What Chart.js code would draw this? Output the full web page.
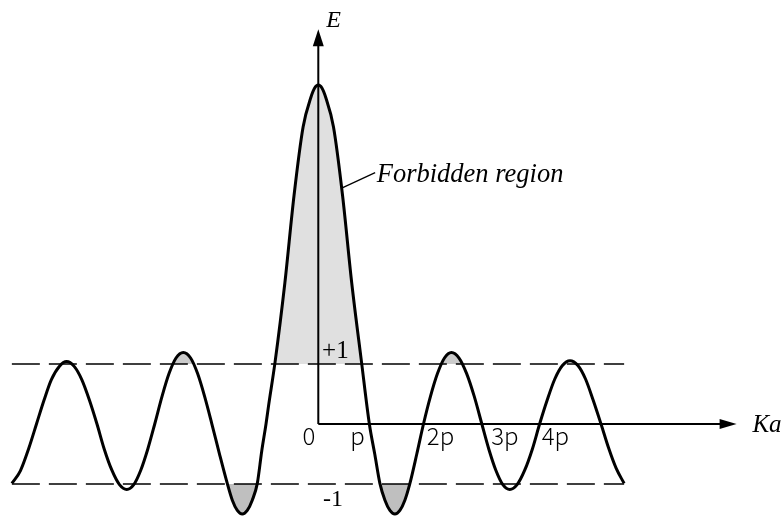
<!DOCTYPE html>
<html>
<head>
<meta charset="utf-8">
<title>Forbidden region</title>
<script src="https://cdn.jsdelivr.net/npm/chart.js@4.4.1/dist/chart.umd.min.js"></script>
<style>
  html, body { margin: 0; padding: 0; background: #fff; }
  canvas { display: block; }
</style>
</head>
<body>
<canvas id="bandChart" width="783" height="517"></canvas>
<script>
// Ka (in units of pi) and the band function value
const kaValues = [
  -5.04, -4.90, -4.76, -4.635, -4.51, -4.39, -4.26, -4.14, -4.015, -3.89,
  -3.765, -3.64, -3.52, -3.395, -3.27, -3.15, -3.035, -2.92, -2.805, -2.69,
  -2.57, -2.455, -2.34, -2.22, -2.10, -1.985, -1.87, -1.75, -1.63, -1.497,
  -1.414, -1.332, -1.25, -1.168, -1.086, -1.003, -0.93, -0.86, -0.82, -0.71,
  -0.55, -0.40, -0.25, -0.12, -0.06, 0, 0.06, 0.12, 0.25, 0.40,
  0.55, 0.71, 0.84, 0.93, 1.013, 1.096, 1.178, 1.26, 1.342, 1.424,
  1.507, 1.62, 1.73, 1.845, 1.96, 2.075, 2.19, 2.315, 2.44, 2.565,
  2.69, 2.805, 2.92, 3.035, 3.15, 3.27, 3.395, 3.52, 3.64, 3.765,
  3.89, 4.015, 4.14, 4.27, 4.395, 4.52, 4.65, 4.775, 4.90, 5.03
];
const fValues = [
  -0.99, -0.78, -0.40, 0.00, 0.40, 0.74, 0.96, 1.04, 0.96, 0.74,
  0.40, 0.00, -0.42, -0.77, -1.01, -1.09, -1.01, -0.77, -0.42, 0.00,
  0.46, 0.84, 1.10, 1.19, 1.10, 0.84, 0.46, 0.00, -0.48, -0.99,
  -1.27, -1.44, -1.50, -1.44, -1.27, -0.99, -0.45, 0.00, 0.29, 1.04,
  2.35, 3.80, 4.95, 5.45, 5.60, 5.65, 5.60, 5.45, 4.95, 3.80,
  2.35, 1.04, 0.00, -0.51, -0.99, -1.27, -1.44, -1.50, -1.44, -1.27,
  -0.99, -0.50, 0.00, 0.46, 0.84, 1.10, 1.19, 1.10, 0.84, 0.46,
  0.00, -0.42, -0.77, -1.01, -1.09, -1.01, -0.77, -0.42, 0.00, 0.40,
  0.75, 0.975, 1.055, 0.975, 0.75, 0.40, 0.00, -0.40, -0.74, -0.99
];

// allowed band limits and the span of the dashed guides
const bandLimits = [1, -1];
const guideSpan = [-5.04, 5.03];

const tickLabels = ['0', 'p', '2p', '3p', '4p'];

// ---- layout ----
const tickLabelAt = [-0.153, 0.645, 2.01, 3.07, 3.9];
const xAxisEnd = 6.88;
const yAxisTop = 6.58;

const curve = kaValues.map((x, i) => ({ x, y: fValues[i] }));

// keep only the part of the curve inside a Ka window, gaps elsewhere
function windowed(lo, hi) {
  return curve.map(p => {
    const a = Math.abs(p.x);
    return (a >= lo && a <= hi) ? p : { x: p.x, y: null };
  });
}

const guide = v => guideSpan.map(x => ({ x, y: v }));

const decorations = {
  id: 'decorations',
  afterDatasetsDraw(chart) {
    const { ctx, scales: { x, y } } = chart;
    const px = v => x.getPixelForValue(v);
    const py = v => y.getPixelForValue(v);
    ctx.save();
    ctx.strokeStyle = '#000';
    ctx.fillStyle = '#000';

    // axes
    ctx.lineWidth = 2;
    ctx.beginPath();
    ctx.moveTo(px(0), py(0));
    ctx.lineTo(px(0), py(yAxisTop) + 14);
    ctx.moveTo(px(0), py(0));
    ctx.lineTo(px(xAxisEnd) - 14, py(0));
    ctx.stroke();

    // arrow heads
    const ox = px(0), oy = py(0);
    const ty = py(yAxisTop), tx = px(xAxisEnd);
    ctx.beginPath();
    ctx.moveTo(ox, ty);
    ctx.lineTo(ox - 5.5, ty + 17);
    ctx.lineTo(ox + 5.5, ty + 17);
    ctx.closePath();
    ctx.fill();
    ctx.beginPath();
    ctx.moveTo(tx, oy);
    ctx.lineTo(tx - 17, oy - 5);
    ctx.lineTo(tx - 17, oy + 5);
    ctx.closePath();
    ctx.fill();

    // axis titles
    ctx.textAlign = 'left';
    ctx.textBaseline = 'alphabetic';
    ctx.font = 'italic 24px "Liberation Serif", serif';
    ctx.fillText('E', px(0.13), py(6.62));
    ctx.font = 'italic 25px "Liberation Serif", serif';
    ctx.fillText('Ka', px(7.14), py(-0.128));

    // band limit labels
    ctx.font = '25px "Liberation Serif", serif';
    ctx.fillText('+1', px(0.062), py(1.1));
    ctx.font = '24px "Liberation Serif", serif';
    ctx.fillText('-1', px(0.077), py(-1.367));

    // tick labels below the Ka axis
    ctx.font = '300 24px "Noto Sans CJK JP", "Liberation Sans", sans-serif';
    ctx.textAlign = 'center';
    tickLabels.forEach((t, i) => ctx.fillText(t, px(tickLabelAt[i]), py(-0.35)));

    // callout for the shaded region
    ctx.lineWidth = 1.3;
    ctx.beginPath();
    ctx.moveTo(px(0.385), py(3.93));
    ctx.lineTo(px(0.935), py(4.19));
    ctx.stroke();
    ctx.textAlign = 'left';
    ctx.font = 'italic 26.5px "Liberation Serif", serif';
    ctx.fillText('Forbidden region', px(0.961), py(4.04));

    ctx.restore();
  }
};

const common = {
  pointRadius: 0,
  cubicInterpolationMode: 'monotone',
  clip: false,
  spanGaps: false
};

new Chart(document.getElementById('bandChart'), {
  type: 'line',
  data: {
    datasets: [
      {
        ...common,
        data: curve,
        borderColor: '#000',
        borderWidth: 3,
        borderJoinStyle: 'round',
        fill: false,
        order: 0
      },
      {
        ...common,
        data: guide(bandLimits[0]),
        borderColor: '#000',
        borderWidth: 1.5,
        borderDash: [28, 9],
        fill: false,
        order: 1
      },
      {
        ...common,
        data: guide(bandLimits[1]),
        borderColor: '#000',
        borderWidth: 1.5,
        borderDash: [28, 9],
        fill: false,
        order: 1
      },
      {
        ...common,
        data: windowed(1.8, 2.6),
        borderWidth: 0,
        borderColor: 'transparent',
        fill: { target: { value: bandLimits[0] }, above: '#cbcbcb', below: 'transparent' },
        order: 2
      },
      {
        ...common,
        data: windowed(0.95, 1.6),
        borderWidth: 0,
        borderColor: 'transparent',
        fill: { target: { value: bandLimits[1] }, above: 'transparent', below: '#bfbfbf' },
        order: 3
      },
      {
        ...common,
        data: windowed(0, 0.95),
        borderWidth: 0,
        borderColor: 'transparent',
        fill: { target: { value: bandLimits[0] }, above: '#e0e0e0', below: 'transparent' },
        order: 4
      }
    ]
  },
  options: {
    responsive: false,
    animation: false,
    devicePixelRatio: 1,
    layout: { padding: 0 },
    plugins: {
      legend: { display: false },
      tooltip: { enabled: false }
    },
    scales: {
      x: { type: 'linear', min: -5.235, max: 7.643, display: false },
      y: { type: 'linear', min: -1.55, max: 7.067, display: false }
    }
  },
  plugins: [decorations]
});
</script>
</body>
</html>
